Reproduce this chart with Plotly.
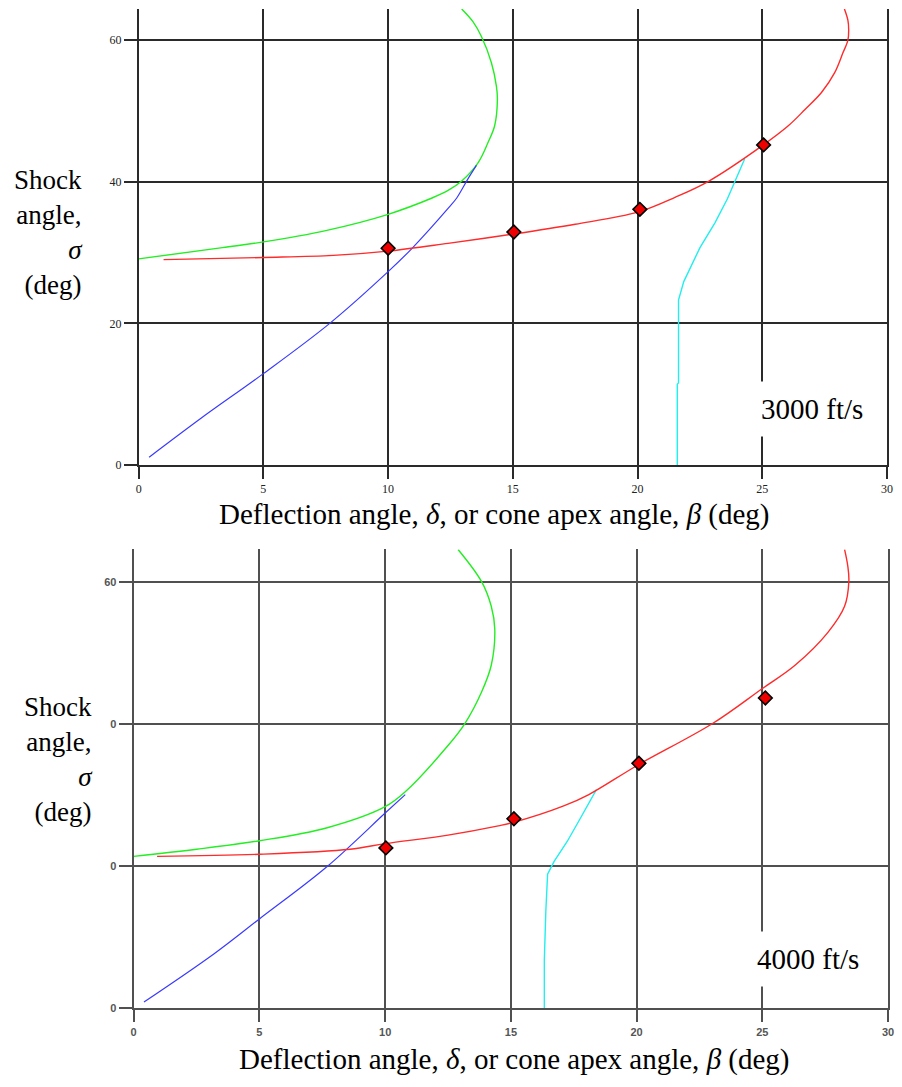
import plotly.graph_objects as go

W, H = 902, 1087

# ---------------- data: 3000 ft/s ----------------
green_x_3000 = [0, 3.36, 5, 7.5, 10, 11.76, 12.42, 12.95, 13.61, 14.0, 14.27, 14.38, 14.34, 14.14, 13.74, 13.4, 12.95]
green_y_3000 = [29.1, 30.7, 31.5, 33.1, 35.4, 37.7, 38.8, 40.1, 42.7, 45.5, 47.9, 51.6, 53.5, 56.8, 60.5, 62.6, 64.4]

red_x_3000 = [1.0, 5, 7.8, 10, 12.4, 15, 17.5, 20, 21.5, 22.86, 25, 26.04, 26.71, 27.37, 27.9, 28.23, 28.43, 28.46, 28.43, 28.29]
red_y_3000 = [29.0, 29.3, 29.6, 30.2, 31.3, 32.6, 34.0, 35.7, 37.8, 40.1, 45.1, 47.9, 50.2, 52.6, 55.4, 58.2, 60.0, 61.5, 62.8, 64.4]

blue_x_3000 = [0.42, 2.5, 5, 7.66, 10, 10.96, 12.42, 12.75, 13.2, 13.54]
blue_y_3000 = [1.1, 6.6, 12.9, 20.0, 27.3, 30.6, 36.3, 37.7, 40.4, 42.3]

cyan_x_3000 = [21.59, 21.59, 21.64, 21.64, 21.85, 22.5, 23.1, 23.6, 24.29]
cyan_y_3000 = [0, 11.4, 11.6, 23.3, 25.9, 30.7, 34.2, 37.6, 43.2]

pts_x_3000 = [10.0, 15.04, 20.09, 25.05]
pts_y_3000 = [30.6, 32.9, 36.1, 45.2]

# ---------------- data: 4000 ft/s ----------------
green_x_4000 = [0, 2.5, 5, 7.66, 10, 10.8, 12.5, 13.17, 13.83, 14.22, 14.36, 14.22, 13.83, 12.9]
green_y_4000 = [21.4, 22.4, 23.6, 25.4, 28.4, 30.5, 37.0, 40.1, 44.5, 48.3, 53.4, 56.6, 60.1, 64.6]

red_x_4000 = [0.93, 5, 8.6, 10, 12.5, 14.5, 15.12, 17.1, 18.1, 20.07, 23.02, 24.99, 26.3, 27.6, 28.27, 28.44, 28.4, 28.27]
red_y_4000 = [21.4, 21.7, 22.4, 23.2, 24.4, 25.7, 26.2, 28.5, 30.1, 34.3, 40.1, 45.0, 48.3, 52.9, 56.6, 60.1, 62.2, 64.6]

blue_x_4000 = [0.41, 3.2, 5, 7.67, 10, 10.8]
blue_y_4000 = [0.9, 7.7, 12.6, 19.9, 27.5, 30.1]

cyan_x_4000 = [16.33, 16.33, 16.39, 16.46, 16.72, 17.24, 17.77, 18.29, 18.4]
cyan_y_4000 = [0, 6.8, 13.7, 18.9, 20.7, 23.5, 26.8, 30.1, 30.8]

pts_x_4000 = [10.03, 15.12, 20.09, 25.12]
pts_y_4000 = [22.6, 26.7, 34.5, 43.7]

x_ticks = [0, 5, 10, 15, 20, 25, 30]
y_ticks = [0, 20, 40, 60]
y_ticktext_3000 = ["0", "20", "40", "60"]
y_ticktext_4000 = ["0", "0", "0", "60"]

speed_labels = ["3000 ft/s", "4000 ft/s"]

RED = "#ff2a2a"
GREEN = "#22ee22"
BLUE = "#3a3aff"
CYAN = "#22eeee"

fig = go.Figure()


def add_set(gx, gy, rx, ry, bx, by, cx, cy, px, py, xa, ya):
    fig.add_trace(go.Scatter(x=gx, y=gy, mode="lines", line=dict(color=GREEN, width=1.4, shape="spline", smoothing=1.0),
                             xaxis=xa, yaxis=ya, showlegend=False))
    fig.add_trace(go.Scatter(x=bx, y=by, mode="lines", line=dict(color=BLUE, width=1.2, shape="spline", smoothing=1.0),
                             xaxis=xa, yaxis=ya, showlegend=False))
    fig.add_trace(go.Scatter(x=cx, y=cy, mode="lines", line=dict(color=CYAN, width=1.4),
                             xaxis=xa, yaxis=ya, showlegend=False))
    fig.add_trace(go.Scatter(x=rx, y=ry, mode="lines", line=dict(color=RED, width=1.4, shape="spline", smoothing=1.0),
                             xaxis=xa, yaxis=ya, showlegend=False))
    fig.add_trace(go.Scatter(x=px, y=py, mode="markers",
                             marker=dict(symbol="diamond", size=10.5, color="#ee0000", line=dict(color="black", width=1.6)),
                             xaxis=xa, yaxis=ya, showlegend=False))


add_set(green_x_3000, green_y_3000, red_x_3000, red_y_3000, blue_x_3000, blue_y_3000,
        cyan_x_3000, cyan_y_3000, pts_x_3000, pts_y_3000, "x", "y")
add_set(green_x_4000, green_y_4000, red_x_4000, red_y_4000, blue_x_4000, blue_y_4000,
        cyan_x_4000, cyan_y_4000, pts_x_4000, pts_y_4000, "x2", "y2")

# pixel geometry of the two panels
top = dict(l=137, r=893, t=9, b=468, ymax=64.4)
bot = dict(l=132, r=894, t=553, b=1015, ymax=64.6)


def xdom(p):
    return [p["l"] / W, p["r"] / W]


def ydom(p):
    return [1 - p["b"] / H, 1 - p["t"] / H]


def xaxis(p, grid_col, grid_w, font):
    return dict(domain=xdom(p), range=[0, 30], tickvals=x_ticks, showgrid=True, gridcolor=grid_col,
                gridwidth=grid_w, zeroline=False, showline=True, linecolor=grid_col, linewidth=grid_w,
                ticks="outside", ticklen=12, tickwidth=grid_w, tickcolor=grid_col, tickfont=font,
                fixedrange=True)


def yaxis(p, grid_col, grid_w, font, ticktext, anchor):
    return dict(domain=ydom(p), range=[0, p["ymax"]], tickvals=y_ticks, ticktext=ticktext, showgrid=True,
                gridcolor=grid_col, gridwidth=grid_w, zeroline=False, showline=True, mirror=True,
                linecolor=grid_col, linewidth=grid_w, ticks="outside", ticklen=13, tickwidth=grid_w,
                tickcolor=grid_col, tickfont=font, anchor=anchor, fixedrange=True)


serif = "Liberation Serif, Times New Roman, DejaVu Serif, serif"
font_top = dict(family=serif, size=12, color="#222")
font_bot = dict(family="Liberation Sans, Arial, sans-serif", size=11, color="#555", weight="bold")

fig.update_layout(
    width=W, height=H, margin=dict(l=0, r=0, t=0, b=0),
    paper_bgcolor="white", plot_bgcolor="white",
    xaxis=dict(xaxis(top, "#2a2a2a", 1.5, font_top), anchor="y"),
    yaxis=yaxis(top, "#2a2a2a", 1.5, font_top, y_ticktext_3000, "x"),
    xaxis2=dict(xaxis(bot, "#505050", 2, font_bot), anchor="y2"),
    yaxis2=yaxis(bot, "#505050", 2, font_bot, y_ticktext_4000, "x2"),
)

xtitle = "Deflection angle, <i>δ</i>, or cone apex angle, <i>β</i> (deg)"
ytitle = "Shock<br>angle,<br><i>σ</i><br>(deg)"

annotations = [
    dict(text=xtitle, xref="paper", yref="paper", x=496.5 / W, y=1 - 518 / H, xanchor="center", yanchor="middle",
         showarrow=False, font=dict(family=serif, size=29, color="black")),
    dict(text=xtitle, xref="paper", yref="paper", x=516.5 / W, y=1 - 1066 / H, xanchor="center", yanchor="middle",
         showarrow=False, font=dict(family=serif, size=29, color="black")),
    dict(text=ytitle, xref="paper", yref="paper", x=83 / W, y=1 - 234 / H, xanchor="right", yanchor="middle",
         align="right", showarrow=False, font=dict(family=serif, size=27, color="black")),
    dict(text=ytitle, xref="paper", yref="paper", x=93 / W, y=1 - 764 / H, xanchor="right", yanchor="middle",
         align="right", showarrow=False, font=dict(family=serif, size=27, color="black")),
    dict(text=speed_labels[0], xref="x", yref="y", x=27.0, y=7.85, xanchor="center", yanchor="middle",
         showarrow=False, bgcolor="white", borderpad=11, font=dict(family=serif, size=29, color="black")),
    dict(text=speed_labels[1], xref="x2", yref="y2", x=26.8, y=7.0, xanchor="center", yanchor="middle",
         showarrow=False, bgcolor="white", borderpad=11, font=dict(family=serif, size=29, color="black")),
]
fig.update_layout(annotations=annotations)

fig.write_html("out.html")
